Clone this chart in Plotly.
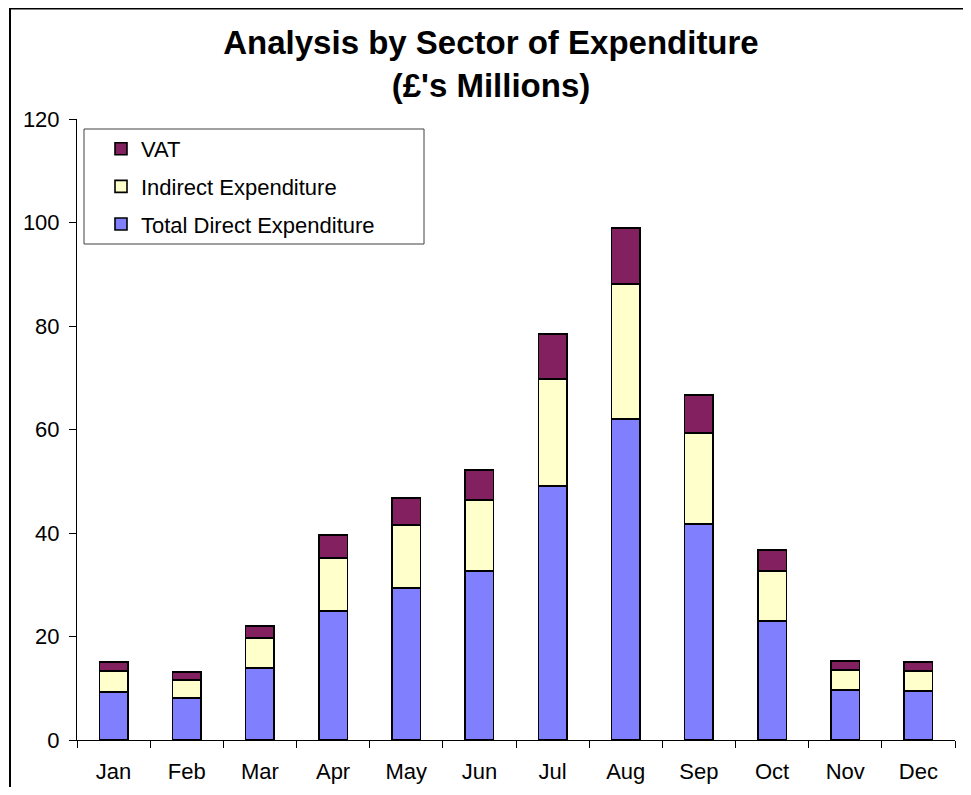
import plotly.graph_objects as go

months = ['Jan', 'Feb', 'Mar', 'Apr', 'May', 'Jun', 'Jul', 'Aug', 'Sep', 'Oct', 'Nov', 'Dec']
direct = [9.3, 8.1, 13.9, 24.9, 29.4, 32.7, 49.1, 62.0, 41.7, 23.0, 9.7, 9.5]
indirect = [4.0, 3.5, 5.8, 10.3, 12.1, 13.7, 20.7, 26.1, 17.6, 9.7, 3.8, 3.8]
vat = [1.8, 1.5, 2.3, 4.4, 5.3, 5.8, 8.7, 10.8, 7.4, 4.0, 1.8, 1.8]

font = "Arial, Liberation Sans, sans-serif"

# page has an 8px body margin; keep the figure inside the window
W, H = 955, 779
L, R, T, B = 69, 8, 111, 47
pw, ph = W - L - R, H - T - B


def px(x):
    return (x - L) / pw


def py(y):
    return (H - B - y) / ph


fig = go.Figure()

series = [
    ('Total Direct Expenditure', direct, '#8080FF', 3),
    ('Indirect Expenditure', indirect, '#FFFFCC', 2),
    ('VAT', vat, '#822060', 1),
]
for name, vals, col, rank in series:
    fig.add_trace(go.Bar(
        x=months, y=vals, name=name,
        marker=dict(color=col, line=dict(color='black', width=1.6)),
        legendgroup=name, legendrank=rank,
    ))

fig.update_layout(
    width=W, height=H,
    barmode='stack', bargap=0.61,
    plot_bgcolor='white', paper_bgcolor='white',
    font=dict(family=font, size=22, color='black'),
    margin=dict(l=L, r=R, t=T, b=B, autoexpand=False),
    title=dict(
        text="<b>Analysis by Sector of Expenditure<br>(£'s Millions)</b>",
        x=483 / W, xanchor='center', y=1 - 46 / H, yanchor='middle',
        font=dict(size=33, family=font),
    ),
    showlegend=True,
    legend=dict(
        x=px(93), y=py(120), xanchor='left', yanchor='top',
        traceorder='grouped', tracegroupgap=6,
        bgcolor='rgba(0,0,0,0)', borderwidth=0,
        font=dict(size=22),
    ),
    xaxis=dict(
        showline=True, linecolor='black', linewidth=1,
        ticks='outside', tickson='boundaries', ticklen=7, tickcolor='black',
        ticklabelstandoff=12, showgrid=False, automargin=False,
    ),
    yaxis=dict(
        range=[0, 120], dtick=20,
        showline=True, linecolor='black', linewidth=1,
        ticks='outside', ticklen=7, tickcolor='black',
        ticklabelstandoff=5, showgrid=False, zeroline=False, automargin=False,
    ),
    shapes=[
        # outer chart frame (only left and top edges are inside the picture)
        dict(type='line', xref='paper', yref='paper',
             x0=px(2), x1=px(2), y0=py(H + 10), y1=py(0),
             line=dict(color='black', width=2), layer='below'),
        dict(type='line', xref='paper', yref='paper',
             x0=px(1), x1=px(W + 10), y0=py(0.5), y1=py(0.5),
             line=dict(color='black', width=2), layer='below'),
        # legend box
        dict(type='rect', xref='paper', yref='paper',
             x0=px(76), x1=px(416), y0=py(236), y1=py(121),
             fillcolor='white', line=dict(color='#404040', width=1), layer='above'),
    ],
)

fig.write_html("out.html")
